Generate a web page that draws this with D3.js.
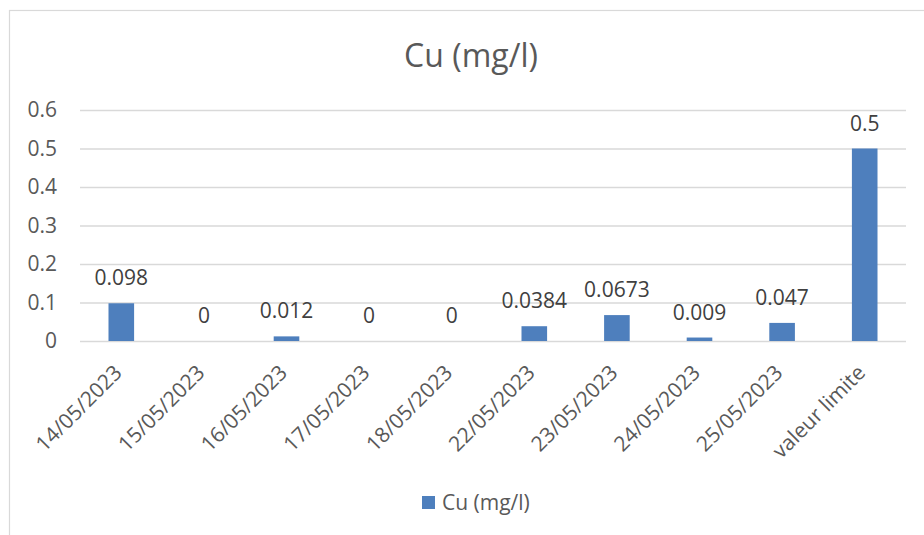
<!DOCTYPE html>
<html>
<head>
<meta charset="utf-8">
<script src="https://cdn.jsdelivr.net/npm/d3@7"></script>
<style>
  html, body { margin: 0; padding: 0; background: #fff; }
  svg { display: block; font-family: "Open Sans", sans-serif; }
</style>
</head>
<body>
<svg id="chart" width="924" height="535"></svg>
<script>
// Copper concentration per sampling date, plus the regulatory limit
const categories = ["14/05/2023", "15/05/2023", "16/05/2023", "17/05/2023", "18/05/2023",
                    "22/05/2023", "23/05/2023", "24/05/2023", "25/05/2023", "valeur limite"];
const cuValues = [0.098, 0, 0.012, 0, 0, 0.0384, 0.0673, 0.009, 0.047, 0.5];
const valueLabels = ["0.098", "0", "0.012", "0", "0", "0.0384", "0.0673", "0.009", "0.047", "0.5"];
const yTicks = [0, 0.1, 0.2, 0.3, 0.4, 0.5, 0.6];
const seriesName = "Cu (mg/l)";

const svg = d3.select("#chart");
const plot = { left: 80, right: 906, top: 110, bottom: 341 };
const barColor = "#4e7fbd";

// chart area frame
svg.append("rect")
  .attr("x", 9.5).attr("y", 10.5)
  .attr("width", 940).attr("height", 560)
  .attr("fill", "#fff").attr("stroke", "#d9d9d9").attr("stroke-width", 1.2);

const x = d3.scaleBand().domain(categories).range([plot.left, plot.right]).padding(0);
const y = d3.scaleLinear().domain([0, 0.6]).range([plot.bottom, plot.top]);
const barW = x.bandwidth() * 0.31;

// title
svg.append("text")
  .attr("x", 471).attr("y", 67)
  .attr("text-anchor", "middle")
  .attr("font-size", 32).attr("fill", "#595959")
  .text(seriesName);

// horizontal gridlines
const yAxis = d3.axisLeft(y).tickValues(yTicks).tickFormat(d => d === 0 ? "0" : d3.format(".1f")(d))
  .tickSize(-(plot.right - plot.left)).tickPadding(23);
const gy = svg.append("g").attr("transform", `translate(${plot.left},0)`).call(yAxis);
gy.select(".domain").remove();
gy.selectAll(".tick line").attr("stroke", "#d9d9d9").attr("stroke-width", 1.3);
gy.selectAll(".tick text").attr("font-size", 21).attr("fill", "#595959")
  .attr("font-family", "Open Sans, sans-serif");

// bars
svg.append("g").selectAll("rect")
  .data(cuValues)
  .join("rect")
  .attr("x", (d, i) => x(categories[i]) + (x.bandwidth() - barW) / 2)
  .attr("y", d => y(d))
  .attr("width", barW)
  .attr("height", d => y(0) - y(d))
  .attr("fill", barColor);

// value labels
svg.append("g").selectAll("text")
  .data(cuValues)
  .join("text")
  .attr("x", (d, i) => x(categories[i]) + x.bandwidth() / 2)
  .attr("y", d => y(d) - 18)
  .attr("text-anchor", "middle")
  .attr("font-size", 21).attr("fill", "#404040")
  .text((d, i) => valueLabels[i]);

// category axis
const xAxis = d3.axisBottom(x).tickSize(0).tickPadding(0);
const gx = svg.append("g").attr("transform", `translate(0,${plot.bottom})`).call(xAxis);
gx.select(".domain").remove();
gx.selectAll(".tick text")
  .attr("font-size", 21).attr("fill", "#595959")
  .attr("font-family", "Open Sans, sans-serif")
  .attr("text-anchor", "end")
  .attr("dy", 0)
  .attr("transform", "translate(2,33) rotate(-45)");

// legend
const legend = svg.append("g").attr("transform", "translate(422,496)");
legend.append("rect").attr("width", 13).attr("height", 13).attr("fill", barColor);
legend.append("text")
  .attr("x", 20).attr("y", 14)
  .attr("font-size", 21).attr("fill", "#595959")
  .text(seriesName);
</script>
</body>
</html>
